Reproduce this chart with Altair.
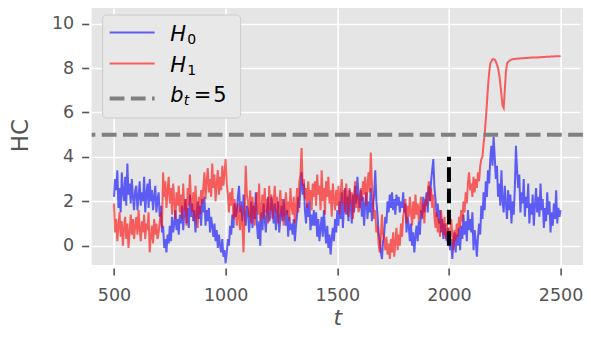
import altair as alt
import pandas as pd

T = list(range(500, 2501, 5))

H0 = [
    2.2, 3.0, 2.5, 3.4, 1.7, 2.6, 1.5, 3.3, 2.4, 2.0, 3.1, 1.8, 3.7, 2.3, 2.8, 1.9, 3.0, 2.2, 1.6, 2.5,
    2.7, 1.6, 2.2, 2.9, 1.8, 2.4, 2.0, 3.1, 1.5, 2.3, 2.8, 1.7, 3.0, 2.0, 2.5, 1.6, 2.2, 2.7, 1.5, 2.1,
    2.4, 1.3, 1.8, 0.6, 0.9, -0.1, 0.3, -0.3, 0.5, 0.1, 0.9, 0.2, 1.3, 0.6, 1.0, 1.6, 0.7, 1.2, 0.5, 1.4,
    1.0, 1.8, 0.7, 1.5, 2.1, 1.0, 1.7, 0.8, 2.3, 1.3, 1.9, 1.1, 1.6, 0.6, 1.4, 2.0, 1.2, 1.8, 0.9, 2.1,
    1.5, 2.2, 0.9, 1.6, 1.1, 1.7, 0.6, 1.3, 0.9, 0.4, 1.0, 0.2, 0.7, -0.1, 0.5, 0.0, -0.3, 0.3, -0.5, -0.2,
    -0.8, -0.3, 0.3, 0.0, 0.9, 0.5, 1.4, 0.8, 1.9, 1.3, 1.6, 2.2, 2.7, 1.5, 2.0, 1.1, 2.3, 1.4, 0.9, 1.8,
    1.6, 0.6, 1.3, 2.0, 0.8, 1.8, 1.2, 2.4, 1.0, 0.3, 1.1, 0.0, 1.5, 0.7, 1.9, 1.2, 0.6, 1.6, 2.2, 1.1,
    1.3, 2.2, 1.7, 1.0, 1.9, 0.7, 1.4, 2.0, 0.6, 1.2, 1.8, 1.1, 2.1, 1.5, 0.9, 1.6, 0.4, 1.3, 0.7, 1.0,
    0.5, 1.2, 0.2, 0.9, 1.4, 2.2, 1.7, 2.6, 3.3, 2.3, 2.8, 1.6, 1.0, 1.9, 1.3, 2.0, 0.7, 1.4, 0.9, 1.6,
    0.9, 1.5, 0.4, 1.2, 0.2, 0.8, 1.3, 0.4, 1.6, 0.7, 0.1, 0.9, -0.1, 0.5, -0.4, 0.3, 0.8, 0.2, 1.2, 0.6,
    1.6, 0.9, 2.0, 1.2, 2.4, 0.8, 1.7, 2.6, 1.4, 2.2, 1.1, 2.5, 1.8, 1.0, 2.3, 1.5, 2.7, 1.9, 3.1, 2.2,
    1.7, 2.5, 1.3, 2.2, 0.9, 1.9, 2.4, 1.2, 2.0, 1.5, 2.6, 1.1, 1.8, 2.3, 3.4, 2.0, 1.4, 0.6, 0.3, -0.3,
    -0.6, 0.2, 0.5, 1.3, 1.0, 2.0, 1.5, 2.3, 1.7, 2.4, 1.6, 2.1, 1.4, 2.3, 1.8, 2.2, 1.5, 2.0, 1.7, 2.4,
    1.5, 1.9, 0.6, 1.3, 0.9, 0.2, 1.0, 0.0, 0.6, -0.3, 0.4, 0.9, 0.2, 1.1, 0.5, 1.6, 1.2, 2.2, 1.5, 2.0,
    2.4, 1.5, 2.7, 2.0, 2.9, 3.4, 3.9, 2.6, 2.1, 1.3, 1.9, 1.0, 1.6, 0.6, 1.2, 0.3, 1.0, 0.5, 0.2, 0.8,
    0.4, -0.2, 0.3, -0.6, 0.1, 0.6, -0.3, 0.5, 0.0, 0.8, -0.2, 0.9, 0.3, 1.4, 0.5, 1.1, 0.2, 1.6, 0.7, 1.2,
    0.6, 1.5, -0.2, 0.7, 0.2, -0.5, 0.4, 1.0, 0.5, 1.8, 1.2, 2.4, 1.6, 2.9, 2.2, 3.4, 2.8, 3.9, 4.5, 3.6,
    4.9, 4.0, 3.0, 3.6, 2.2, 2.8, 1.8, 3.4, 2.0, 1.5, 2.7, 1.9, 1.2, 2.5, 1.6, 2.3, 1.0, 2.0, 1.4, 2.6,
    4.5, 3.4, 2.6, 3.2, 1.5, 2.4, 1.9, 3.0, 1.3, 2.2, 1.7, 2.8, 1.0, 1.9, 1.4, 2.3, 0.9, 1.8, 2.6, 1.5,
    2.2, 1.3, 2.8, 1.6, 2.1, 0.8, 1.7, 1.1, 2.4, 1.4, 2.0, 0.6, 1.5, 0.9, 1.9, 1.2, 2.5, 1.0, 1.7, 1.3,
    1.6,
]

H1 = [
    1.9, 0.6, 1.2, 0.2, 0.9, 1.5, 0.4, 1.1, 0.0, 0.8, 1.3, 0.3, 1.0, -0.1, 0.6, 1.4, 0.5, 1.2, 0.3, 0.9,
    1.3, 0.5, 1.6, 0.8, 0.2, 1.1, 0.6, 1.4, 0.3, 1.0, 0.7, 1.5, -0.3, 0.4, 0.9, 0.1, 1.2, 0.5, 1.0, 0.3,
    0.6, 1.1, 1.5, 0.8, 3.3, 2.2, 2.9, 1.7, 2.5, 3.1, 1.9, 2.6, 1.4, 2.8, 2.0, 1.2, 2.4, 1.8, 2.7, 1.5,
    2.3, 1.2, 2.8, 1.6, 2.1, 0.9, 2.6, 1.8, 3.2, 2.0, 1.5, 2.4, 1.1, 2.7, 1.7, 0.8, 2.2, 1.4, 2.5, 1.9,
    2.6, 3.3, 2.1, 2.9, 3.5, 2.4, 3.0, 2.2, 3.7, 2.6, 3.2, 2.0, 2.8, 3.4, 2.3, 3.1, 2.5, 3.6, 2.7, 3.3,
    3.9, 2.8, 2.3, 1.5, 2.4, 1.8, 2.6, 1.2, 2.1, 1.6, 0.9, 1.9, 1.3, 0.7, 1.8, 1.0, -0.3, 1.4, 3.6, 2.3,
    2.0, 1.3, 2.5, 1.0, 2.2, 1.6, 0.9, 1.9, 2.4, 1.4, 2.8, 1.1, 1.7, 2.3, 1.2, 2.6, 1.5, 2.1, 1.0, 2.7,
    1.6, 2.3, 1.2, 2.0, 2.7, 1.5, 2.2, 1.0, 1.8, 2.5, 1.3, 2.1, 0.9, 1.7, 2.4, 1.4, 2.0, 1.1, 2.6, 1.8,
    1.4, 2.2, 1.0, 1.8, 2.6, 1.5, 2.9, 3.2, 4.4, 2.7, 3.0, 2.1, 2.6, 1.7, 2.9, 2.0, 2.5, 1.6, 2.8, 2.2,
    2.9, 1.8, 3.2, 2.3, 2.7, 1.6, 3.4, 2.0, 2.6, 1.4, 2.9, 2.2, 3.1, 1.9, 2.5, 1.3, 2.8, 2.1, 1.6, 2.5,
    1.8, 2.7, 1.4, 2.3, 3.0, 1.9, 2.5, 1.5, 2.8, 2.1, 1.3, 2.6, 1.9, 2.4, 1.2, 2.2, 2.9, 1.7, 2.3, 1.5,
    1.7, 2.6, 2.0, 2.9, 2.3, 3.1, 1.8, 2.7, 3.3, 2.4, 4.2, 2.8, 2.0, 1.2, 1.6, 0.6, 0.9, 0.1, -0.3, 0.4,
    1.4, 0.5, 0.3, -0.2, 0.4, -0.4, 0.1, -0.6, 0.3, -0.3, 0.6, -0.5, 0.2, 0.8, -0.2, 0.5, 0.0, 1.0, 0.4, 1.3,
    1.6, 2.1, 1.0, 1.8, 1.3, 2.2, 1.5, 0.9, 2.0, 1.2, 2.3, 1.4, 1.9, 1.1, 1.7, 2.2, 1.3, 1.9, 1.0, 2.1,
    1.8, 2.4, 2.9, 2.0, 2.6, 1.7, 2.3, 1.3, 0.8, 1.5, 0.6, 1.2, 0.4, 1.6, 0.9, 0.5, 1.3, 0.3, 1.0, 0.6,
    0.8, 0.3, 1.2, 0.5, -0.2, 0.7, 0.2, 1.0, 0.4, 1.3, 0.8, 1.6, 1.1, 2.0, 1.5, 2.4, 1.9, 2.8, 3.3, 2.5,
    2.8, 2.2, 3.1, 2.4, 3.0, 2.6, 3.3, 2.9, 3.6, 3.9, 4.0, 4.6, 5.0, 5.7, 6.4, 7.2, 7.8, 8.2, 8.3, 8.4,
    8.4, 8.38, 8.3, 8.15, 8.0, 7.7, 7.3, 6.8, 6.3, 6.2, 7.0, 7.8, 8.2, 8.28, 8.32, 8.36, 8.38, 8.4, 8.41, 8.41,
    8.42, 8.42, 8.43, 8.43, 8.43, 8.44, 8.44, 8.44, 8.45, 8.45, 8.45, 8.46, 8.46, 8.46, 8.47, 8.47, 8.47, 8.48, 8.48, 8.48,
    8.49, 8.49, 8.49, 8.50, 8.50, 8.50, 8.50, 8.51, 8.51, 8.51, 8.51, 8.52, 8.52, 8.52, 8.52, 8.53, 8.53, 8.53, 8.53, 8.53,
    8.54,
]

THRESHOLD = [5]
CHANGE_T = [2000]
CHANGE_Y = [0]
CHANGE_Y2 = [4]
X_TICKS = [500, 1000, 1500, 2000, 2500]
Y_TICKS = [0, 2, 4, 6, 8, 10]

df0 = pd.DataFrame({"t": T, "HC": H0})
df1 = pd.DataFrame({"t": T, "HC": H1})
df_thr = pd.DataFrame({"HC": THRESHOLD})
df_chg = pd.DataFrame({"t": CHANGE_T, "HC": CHANGE_Y, "HC2": CHANGE_Y2})
dummy = pd.DataFrame({"a": [0]})

xs = alt.Scale(domain=[400, 2600], nice=False, zero=False)
ys = alt.Scale(domain=[-0.87, 10.84], nice=False, zero=False)

x_enc = alt.X("t:Q", scale=xs, axis=alt.Axis(values=X_TICKS, title="t", titleFontStyle="italic",
                                               format="d", labelPadding=12, titlePadding=3,
                                               titleFontSize=22))
y_enc = alt.Y("HC:Q", scale=ys, axis=alt.Axis(values=Y_TICKS, title="HC", format="d",
                                                labelPadding=8, titlePadding=19))

blue = alt.Chart(df0).mark_line(color="#0000ff", opacity=0.6, strokeWidth=2).encode(x=x_enc, y=y_enc)
red = alt.Chart(df1).mark_line(color="#ff0000", opacity=0.6, strokeWidth=2).encode(x=x_enc, y=y_enc)

thr = alt.Chart(df_thr).mark_rule(color="#808080", strokeWidth=4, strokeDash=[14.8, 6.4]).encode(
    y=alt.Y("HC:Q", scale=ys))
chg = alt.Chart(df_chg).mark_rule(color="black", strokeWidth=4, strokeDash=[14.8, 6.4]).encode(
    x=alt.X("t:Q", scale=xs), y=alt.Y("HC:Q", scale=ys), y2="HC2:Q")

# legend (manual)
leg_box = alt.Chart(dummy).mark_rect(fill="#e8e8e8", stroke="#cccccc", strokeWidth=1, cornerRadius=4).encode(
    x=alt.value(11), x2=alt.value(149), y=alt.value(10), y2=alt.value(113))
leg_b = alt.Chart(dummy).mark_rule(color="#0000ff", opacity=0.6, strokeWidth=2).encode(
    x=alt.value(18), x2=alt.value(63), y=alt.value(27.5))
leg_r = alt.Chart(dummy).mark_rule(color="#ff0000", opacity=0.6, strokeWidth=2).encode(
    x=alt.value(18), x2=alt.value(63), y=alt.value(58.5))
leg_g = alt.Chart(dummy).mark_rule(color="#808080", strokeWidth=4, strokeDash=[14.8, 6.4]).encode(
    x=alt.value(18), x2=alt.value(63), y=alt.value(93.5))


def txt(s, x, y, size=21, style="italic"):
    return alt.Chart(dummy).mark_text(text=s, align="left", baseline="alphabetic", fontSize=size,
                                      fontStyle=style, font="DejaVu Sans", color="black").encode(
        x=alt.value(x), y=alt.value(y))


legend_texts = [
    txt("H", 78.5, 35.7), txt("0", 95.5, 38.8, size=14, style="normal"),
    txt("H", 78.5, 66.7), txt("1", 95.5, 69.8, size=14, style="normal"),
    txt("b", 78.5, 96.7), txt("t", 92, 99.8, size=14),
    txt("=", 102, 96.7, style="normal"), txt("5", 121.5, 96.7, style="normal"),
]

chart = alt.layer(blue, red, thr, chg, leg_box, leg_b, leg_r, leg_g, *legend_texts).properties(
    width=491.3, height=260,
    autosize=alt.AutoSizeParams(type="none"),
    padding={"left": 83.65, "top": -3, "right": 0, "bottom": 66},
).configure_view(
    fill="#e5e5e5", stroke=None
).configure_axis(
    grid=True, gridColor="white", gridWidth=1.6, domain=False,
    tickColor="#555555", tickSize=7, tickWidth=1.6, offset=3,
    labelColor="#555555", labelFontSize=17.5, labelFont="DejaVu Sans",
    titleColor="#555555", titleFontSize=23, titleFont="DejaVu Sans", titleFontWeight="normal",
)

chart.save("out.html", embed_options={"renderer": "svg", "actions": False})
